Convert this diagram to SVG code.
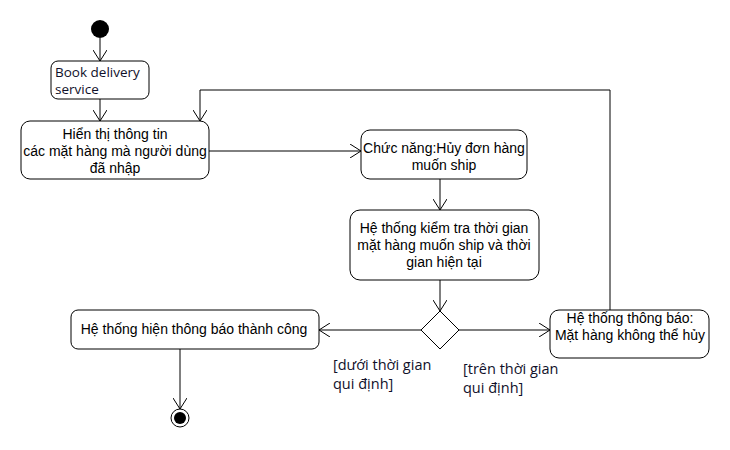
<svg xmlns="http://www.w3.org/2000/svg" width="730" height="450" viewBox="0 0 730 450">
<defs>
<marker id="arr" viewBox="0 0 12 14" refX="11" refY="7" markerWidth="12" markerHeight="14" markerUnits="userSpaceOnUse" orient="auto">
<path d="M0,0 L11,7 L0,14" fill="none" stroke="#000" stroke-width="1"/>
</marker>
<style>
.node{fill:#fff;stroke:#000;stroke-width:1}
.t{font-family:"Liberation Sans",Arial,sans-serif;font-size:14px;fill:#000;text-anchor:middle}
.c{font-family:"Open Sans","Liberation Sans",sans-serif;font-size:14.5px;fill:#10102a}
.b{font-family:"Open Sans","Liberation Sans",sans-serif;font-size:13.5px;fill:#10102a}
.edge{fill:none;stroke:#000;stroke-width:1;marker-end:url(#arr)}
</style>
</defs>
<rect width="730" height="450" fill="#fff"/>
<g id="start"><circle cx="100" cy="29" r="9" fill="#000"/></g>
<g id="book">
<rect class="node" x="51" y="61" width="98" height="38" rx="7"/>
<text class="b" x="55" y="77">Book delivery</text>
<text class="b" x="55" y="94">service</text>
</g>
<g id="hienthi">
<rect class="node" x="21" y="121" width="188" height="58" rx="9"/>
<text class="t" x="115" y="139">Hiển thị thông tin</text>
<text class="t" x="115" y="156">các mặt hàng mà người dùng</text>
<text class="t" x="115" y="173">đã nhập</text>
</g>
<g id="chucnang">
<rect class="node" x="361" y="130" width="166" height="49" rx="9"/>
<text class="t" x="444" y="153">Chức năng:Hủy đơn hàng</text>
<text class="t" x="444" y="170">muốn ship</text>
</g>
<g id="kiemtra">
<rect class="node" x="350" y="210" width="189" height="70" rx="10"/>
<text class="t" x="444" y="233">Hệ thống kiểm tra thời gian</text>
<text class="t" x="444" y="250">mặt hàng muốn ship và thời</text>
<text class="t" x="444" y="267">gian hiện tại</text>
</g>
<g id="decision"><polygon points="440,311 459,330 440,349 421,330" fill="#fff" stroke="#000"/></g>
<g id="thanhcong">
<rect class="node" x="71" y="310" width="248" height="39" rx="7"/>
<text class="t" x="194" y="334">Hệ thống hiện thông báo thành công</text>
</g>
<g id="khonghuy">
<rect class="node" x="550" y="310" width="159" height="48" rx="9"/>
<text class="t" x="630" y="323">Hệ thống thông báo:</text>
<text class="t" x="630" y="340">Mặt hàng không thể hủy</text>
</g>
<g id="end">
<circle cx="180" cy="418" r="9" fill="#fff" stroke="#000"/>
<circle cx="180" cy="418" r="6" fill="#000"/>
</g>
<g id="connectors">
<line class="edge" x1="100" y1="38" x2="100" y2="61"/>
<line class="edge" x1="100" y1="99" x2="100" y2="121"/>
<line class="edge" x1="209" y1="151" x2="361" y2="151"/>
<line class="edge" x1="440" y1="179" x2="440" y2="210"/>
<line class="edge" x1="440" y1="280" x2="440" y2="311"/>
<line class="edge" x1="421" y1="330" x2="319" y2="330"/>
<line class="edge" x1="459" y1="330" x2="550" y2="330"/>
<polyline class="edge" points="610,310 610,90 200,90 200,121"/>
<line class="edge" x1="180" y1="349" x2="180" y2="409"/>
</g>
<g id="labels">
<text class="c" x="333" y="370">[dưới thời gian</text>
<text class="c" x="333" y="389">qui định]</text>
<text class="c" x="463" y="374">[trên thời gian</text>
<text class="c" x="463" y="393">qui định]</text>
</g>
</svg>
